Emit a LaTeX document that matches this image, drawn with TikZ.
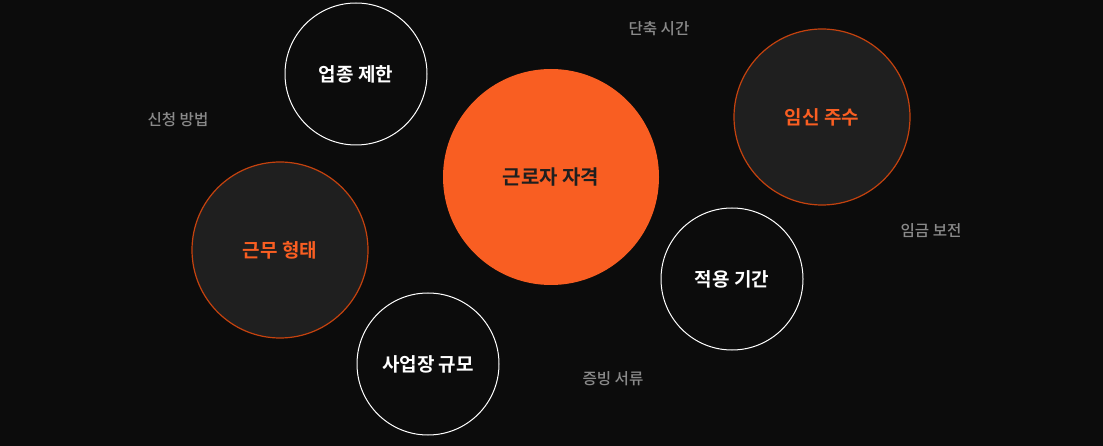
\documentclass[tikz,border=0pt]{standalone}
\usepackage{fontspec}
\newfontfamily\kr{Noto Sans CJK KR Medium}
\newfontfamily\krbold{Noto Sans CJK KR Bold}
\definecolor{bg}{HTML}{0C0C0C}
\definecolor{kern}{HTML}{F95E22}
\definecolor{rand}{HTML}{C4420E}
\definecolor{dunkel}{HTML}{1F1F1F}
\definecolor{grau}{HTML}{8A8A8A}
\begin{document}
\begin{tikzpicture} [x = 1pt, y = -1pt,
        ring/.style  = {circle, draw = white, line width = 1pt, inner sep = 0pt,
                        minimum size = 142pt, text = white, font = \krbold\fontsize{19}{22}\selectfont},
        fokus/.style = {circle, draw = rand, fill = dunkel, line width = 1.2pt, inner sep = 0pt,
                        minimum size = 176pt, text = kern, font = \krbold\fontsize{19}{22}\selectfont},
        stich/.style = {text = grau, font = \kr\fontsize{15.6}{18}\selectfont}]
    % Hintergrund
    \fill[bg] (0, 0) rectangle (1103, 446);
    \useasboundingbox (0, 0) rectangle (1103, 446);

    % Mitte
    \node [circle, fill = kern, inner sep = 0pt, minimum size = 216pt,
           text = dunkel, font = \krbold\fontsize{20}{24}\selectfont] (zentrum) at (551, 177) {근로자 자격};

    % Kreise
    \node [ring]  (branche) at (356, 74)  {업종 제한};
    \node [ring]  (dauer)   at (732, 279) {적용 기간};
    \node [ring]  (betrieb) at (428, 364) {사업장 규모};
    \node [fokus] (woche)   at (822, 117) {임신 주수};
    \node [fokus] (form)    at (280, 250) {근무 형태};

    % Stichworte
    \node [stich] (zeit)    at (659, 29)  {단축 시간};
    \node [stich] (antrag)  at (178, 120) {신청 방법};
    \node [stich] (lohn)    at (931, 231) {임금 보전};
    \node [stich] (beleg)   at (613, 379) {증빙 서류};
\end{tikzpicture}
\end{document}
